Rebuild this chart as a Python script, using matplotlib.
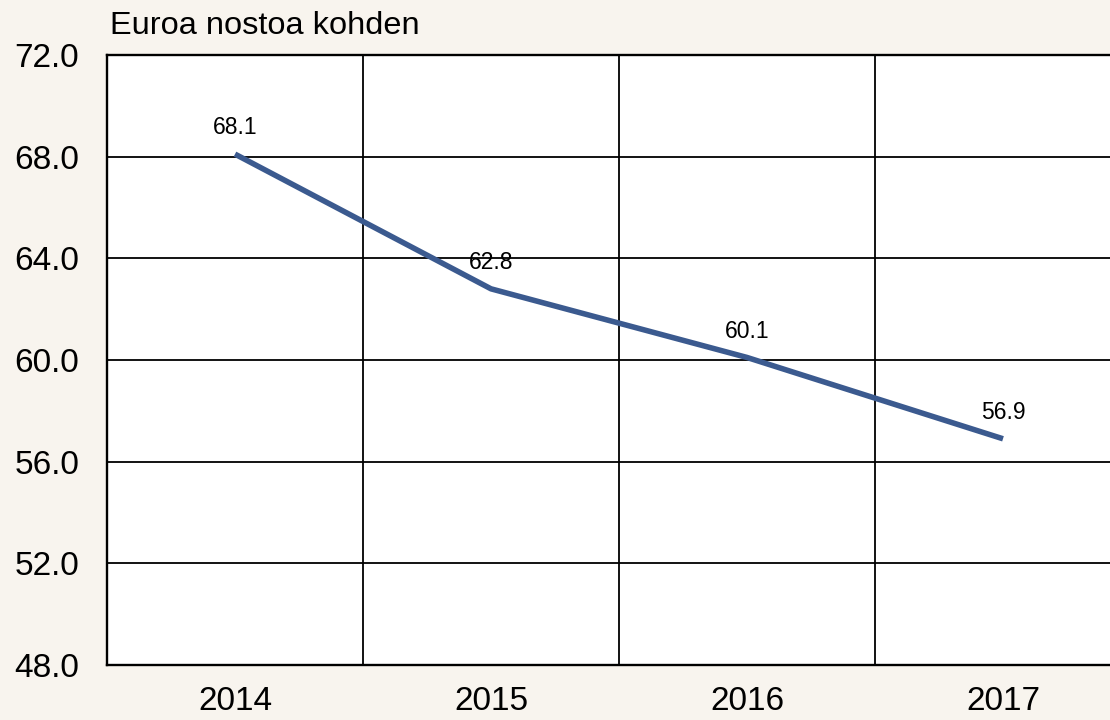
import matplotlib.pyplot as plt

# data
years = ['2014', '2015', '2016', '2017']
values = [68.1, 62.8, 60.1, 56.9]
yticks = [48.0, 52.0, 56.0, 60.0, 64.0, 68.0, 72.0]

plt.rcParams['font.family'] = ['Liberation Sans', 'DejaVu Sans']

bg = '#f8f4ee'
fig = plt.figure(figsize=(11.1, 7.2), dpi=100, facecolor=bg)
ax = fig.add_axes([107 / 1110, 1 - 665 / 720, 1024 / 1110, 610 / 720])
ax.set_facecolor('white')

x = list(range(len(years)))
ax.plot(x, values, color='#3b5a8f', linewidth=4.0, solid_capstyle='butt', zorder=3)
for xi, v in zip(x, values):
    ax.annotate(f'{v:.1f}', (xi, v), xytext=(0, 19), textcoords='offset points',
                ha='center', va='center', fontsize=16.5, color='black', zorder=4)

ax.set_xlim(-0.5, len(years) - 0.5)
ax.set_ylim(48, 72)
ax.set_yticks(yticks)
ax.set_yticklabels([f'{t:.1f}' for t in yticks], fontsize=24)
ax.set_xticks(x)
ax.set_xticklabels(years, fontsize=24)
ax.tick_params(axis='both', length=0)
ax.tick_params(axis='y', pad=20)
ax.tick_params(axis='x', pad=15)

# grid lines: horizontal at y ticks, vertical at category boundaries
for t in yticks[1:-1]:
    ax.axhline(t, color='black', linewidth=1.3, zorder=1)
for b in [0.5, 1.5, 2.5]:
    ax.axvline(b, color='black', linewidth=1.3, zorder=1)

for s in ['left', 'bottom', 'top']:
    ax.spines[s].set_linewidth(1.7)
    ax.spines[s].set_color('black')
ax.spines['right'].set_visible(False)

fig.text(110 / 1110, 1 - 26 / 720, 'Euroa nostoa kohden', fontsize=23.4,
         ha='left', va='center')

fig.savefig('out.png', dpi=100, facecolor=bg)
